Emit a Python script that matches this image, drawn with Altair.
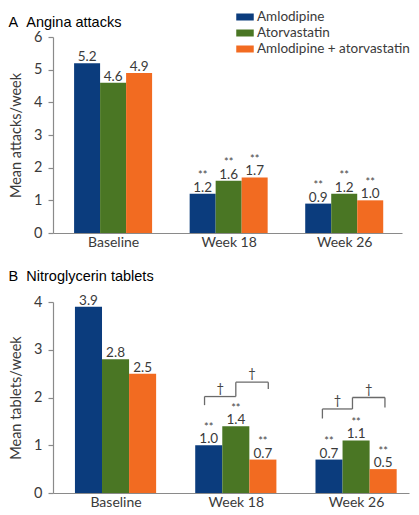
import json
import altair as alt
import pandas as pd

# ---------------- data ----------------
groups = ["Baseline", "Week 18", "Week 26"]
series = ["Amlodipine", "Atorvastatin", "Amlodipine + atorvastatin"]
colors = ["#0b3c7d", "#4a7624", "#f26b21"]

angina_amlodipine = [5.2, 1.2, 0.9]
angina_atorvastatin = [4.6, 1.6, 1.2]
angina_combination = [4.9, 1.7, 1.0]

nitro_amlodipine = [3.9, 1.0, 0.7]
nitro_atorvastatin = [2.8, 1.4, 1.1]
nitro_combination = [2.5, 0.7, 0.5]

significance = ["", "**", "**"]  # vs baseline, per time point

# comparison brackets in panel B (x in time-point units, y in tablets/week)
bracket_left = [0.74, 1.00, 1.72, 1.97]
bracket_right = [1.00, 1.27, 1.97, 2.24]
bracket_top = [2.02, 2.32, 1.76, 2.00]
bracket_left_end = [1.84, 2.02, 1.56, 1.76]
bracket_right_end = [2.02, 2.18, 1.76, 1.79]
bracket_symbol = ["\u2020", "\u2020", "\u2020", "\u2020"]

# ---------------- styling ----------------
BAR_W = 0.225
FONT = "Lato"
TITLE_FONT = "Liberation Sans"
AXIS_GREY = "#8a8a8a"
TEXT_GREY = "#3a3a3a"


def make_df(values_per_series):
    rows = []
    for si, (s, vals) in enumerate(zip(series, values_per_series)):
        for gi, v in enumerate(vals):
            c = gi + (si - 1) * BAR_W
            rows.append(dict(series=s, pos=c, x0=c - BAR_W / 2, x1=c + BAR_W / 2,
                             value=v, label=f"{v:.1f}", stars=significance[gi]))
    return pd.DataFrame(rows)


legend = alt.Legend(
    title=None, orient="none", legendX=183, legendY=-29,
    symbolType="M-1,-0.4L1,-0.4L1,0.4L-1,0.4Z", symbolSize=306,
    symbolStrokeWidth=0, labelFontSize=13.5, labelFont=FONT,
    labelColor=TEXT_GREY, rowPadding=0, labelOffset=3, padding=0,
)

label_expr = f"{json.dumps(groups)}[datum.value]"


def panel(df, ymax, width, height, xmax, ytitle, title, extra=()):
    xs = alt.Scale(domain=[-0.52, xmax], nice=False, zero=False)
    ys = alt.Scale(domain=[0, ymax], nice=False, zero=True)
    x_axis = alt.Axis(
        values=[0, 1, 2], labelExpr=label_expr, title=None, grid=False,
        ticks=False, labelFlush=False, labelOverlap=False, labelFontSize=14,
        labelFont=FONT, labelColor=TEXT_GREY, labelPadding=2,
        domainColor=AXIS_GREY, domainWidth=1.2)
    y_axis = alt.Axis(
        values=list(range(ymax + 1)), title=ytitle, grid=False, labelOverlap=False,
        tickSize=5, tickColor=AXIS_GREY, domainColor=AXIS_GREY,
        domainWidth=1.2, tickWidth=1.2,
        labelFontSize=14.5, labelFont=FONT, labelColor=TEXT_GREY,
        labelPadding=6, titleFontSize=14.5, titleFont=FONT,
        titleFontWeight="normal", titleColor=TEXT_GREY, titlePadding=10)
    base = alt.Chart(df)
    bars = base.mark_rect().encode(
        x=alt.X("x0:Q", scale=xs, axis=x_axis),
        x2="x1:Q",
        y=alt.Y("value:Q", scale=ys, axis=y_axis),
        y2=alt.datum(0),
        color=alt.Color("series:N", scale=alt.Scale(domain=series, range=colors),
                        legend=legend),
    )
    vals = base.mark_text(baseline="alphabetic", dy=-2, fontSize=13.5, font=FONT,
                          color=TEXT_GREY).encode(
        x=alt.X("pos:Q", scale=xs, axis=x_axis),
        y=alt.Y("value:Q", scale=ys, axis=y_axis), text="label:N")
    stars = base.mark_text(baseline="alphabetic", dy=-14.5, fontSize=11, font=FONT,
                           color="#444444").encode(
        x=alt.X("pos:Q", scale=xs, axis=x_axis),
        y=alt.Y("value:Q", scale=ys, axis=y_axis), text="stars:N")
    layers = [bars, vals, stars]
    for make in extra:
        layers.extend(make(xs, ys, x_axis, y_axis))
    return alt.layer(*layers).properties(
        width=width, height=height,
        title=alt.TitleParams(text=title, anchor="start", frame="bounds", fontSize=14.5,
                              font=TITLE_FONT, fontWeight="normal", color="black",
                              offset=-1),
    )


df_a = make_df([angina_amlodipine, angina_atorvastatin, angina_combination])
df_b = make_df([nitro_amlodipine, nitro_atorvastatin, nitro_combination])

br = pd.DataFrame(dict(xl=bracket_left, xr=bracket_right, top=bracket_top,
                       lb=bracket_left_end, rb=bracket_right_end, sym=bracket_symbol))
br["mid"] = (br["xl"] + br["xr"]) / 2


def bracket_layers(xs, ys, x_axis, y_axis):
    bb = alt.Chart(br)
    st = dict(color="#6a6a6a", strokeWidth=1.3)
    X = lambda f: alt.X(f, scale=xs, axis=x_axis)
    Y = lambda f: alt.Y(f, scale=ys, axis=y_axis)
    h_rule = bb.mark_rule(**st).encode(x=X("xl:Q"), x2="xr:Q", y=Y("top:Q"))
    l_leg = bb.mark_rule(**st).encode(x=X("xl:Q"), y=Y("top:Q"), y2="lb:Q")
    r_leg = bb.mark_rule(**st).encode(x=X("xr:Q"), y=Y("top:Q"), y2="rb:Q")
    dag = bb.mark_text(baseline="alphabetic", dy=-4, fontSize=13, font=FONT,
                       color="#444444").encode(x=X("mid:Q"), y=Y("top:Q"), text="sym:N")
    return [h_rule, l_leg, r_leg, dag]


pA = panel(df_a, 6, 349, 196, 2.5, "Mean attacks/week", "A\u00a0\u00a0Angina attacks")
pB = panel(df_b, 4, 356, 191, 2.44, "Mean tablets/week", "B\u00a0\u00a0Nitroglycerin tablets",
           extra=(bracket_layers,))

chart = alt.vconcat(pA, pB, spacing=19).properties(padding=0).configure_view(strokeWidth=0)

chart.save("out.html", embed_options={"renderer": "svg", "actions": False})
